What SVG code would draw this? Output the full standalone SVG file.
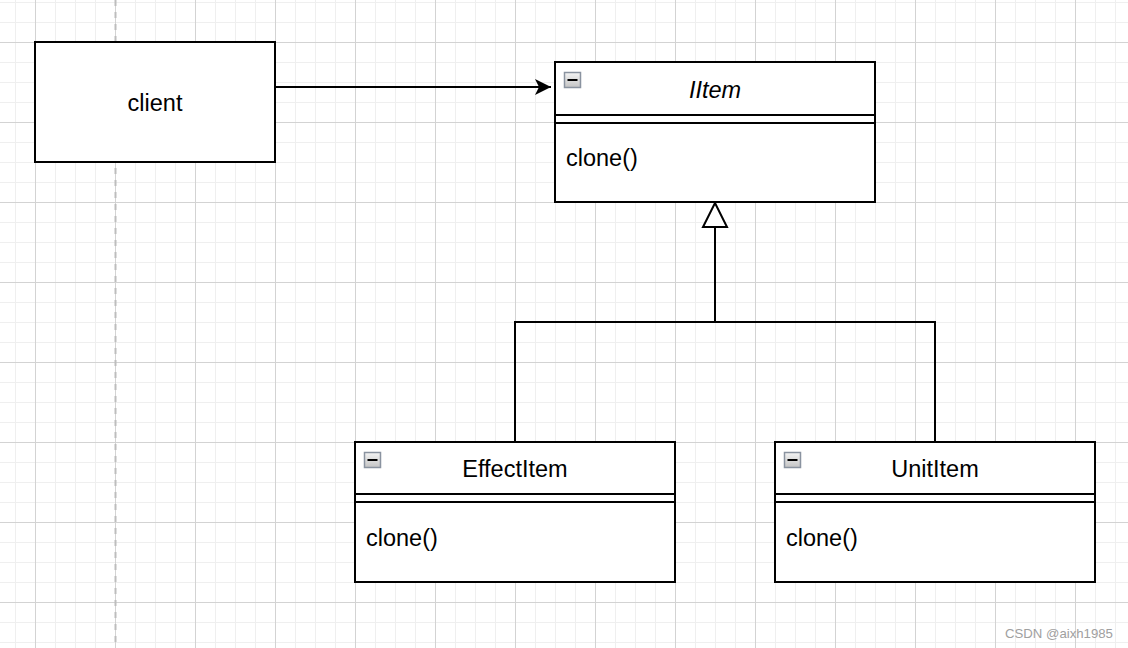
<svg xmlns="http://www.w3.org/2000/svg" width="1128" height="648" viewBox="0 0 1128 648">
  <style>
    .box { fill: #ffffff; stroke: #000000; stroke-width: 2; }
    .sep { stroke: #000000; stroke-width: 2; fill: none; }
    .title { font-family: "Liberation Sans", Arial, sans-serif; font-size: 23.5px; fill: #000000; text-anchor: middle; }
    .member { font-family: "Liberation Sans", Arial, sans-serif; font-size: 23.5px; fill: #000000; text-anchor: start; }
    .edge { stroke: #000000; stroke-width: 2; fill: none; }
    .wm { font-family: "Liberation Sans", Arial, sans-serif; font-size: 13.2px; fill: #a0a0a0; }
  </style>
  <defs>
    <pattern id="grid" patternUnits="userSpaceOnUse" x="35" y="42" width="80" height="80">
      <rect x="0" y="0" width="80" height="80" fill="#ffffff"/>
      <rect x="20" y="0" width="1" height="80" fill="#efefef"/>
      <rect x="40" y="0" width="1" height="80" fill="#efefef"/>
      <rect x="60" y="0" width="1" height="80" fill="#efefef"/>
      <rect x="0" y="20" width="80" height="1" fill="#efefef"/>
      <rect x="0" y="40" width="80" height="1" fill="#efefef"/>
      <rect x="0" y="60" width="80" height="1" fill="#efefef"/>
      <rect x="0" y="0" width="1" height="80" fill="#d3d3d3"/>
      <rect x="0" y="0" width="80" height="1" fill="#d3d3d3"/>
    </pattern>
    <linearGradient id="iconGrad" x1="0" y1="0" x2="0" y2="1">
      <stop offset="0" stop-color="#f4f4f4"/>
      <stop offset="1" stop-color="#c4c4c4"/>
    </linearGradient>
    <g id="collapse">
      <rect x="0.5" y="0.5" width="16" height="15" fill="url(#iconGrad)" stroke="#8a93a0" stroke-width="1.5"/>
      <rect x="3.5" y="7" width="10" height="2" fill="#000000"/>
    </g>
    <marker id="classic" markerUnits="userSpaceOnUse" markerWidth="20" markerHeight="20" refX="16" refY="8" orient="auto">
      <path d="M0,0 L16,8 L0,16 L4,8 Z" fill="#000000"/>
    </marker>
  </defs>

  <rect x="0" y="0" width="1128" height="648" fill="url(#grid)"/>
  <line x1="115.5" y1="0" x2="115.5" y2="648" stroke="#bdbdbd" stroke-width="2" stroke-dasharray="6,6"/>

  <g id="connectors">
    <path class="edge" d="M275,87 L551,87" marker-end="url(#classic)"/>
    <path class="edge" d="M715,227 L715,322 M515,442 L515,322 L935,322 L935,442"/>
    <path d="M715,203 L727,227 L703,227 Z" fill="#ffffff" stroke="#000000" stroke-width="2"/>
  </g>

  <g id="client">
    <rect class="box" x="35" y="42" width="240" height="120"/>
    <text class="title" x="155" y="111">client</text>
  </g>

  <g id="IItem">
    <rect class="box" x="555" y="62" width="320" height="140"/>
    <line class="sep" x1="555" y1="115" x2="875" y2="115"/>
    <line class="sep" x1="555" y1="123" x2="875" y2="123"/>
    <use href="#collapse" x="564" y="72"/>
    <text class="title" x="715" y="98" font-style="italic">IItem</text>
    <text class="member" x="566" y="166">clone()</text>
  </g>

  <g id="EffectItem">
    <rect class="box" x="355" y="442" width="320" height="140"/>
    <line class="sep" x1="355" y1="494" x2="675" y2="494"/>
    <line class="sep" x1="355" y1="502" x2="675" y2="502"/>
    <use href="#collapse" x="364" y="452"/>
    <text class="title" x="515" y="477">EffectItem</text>
    <text class="member" x="366" y="546">clone()</text>
  </g>

  <g id="UnitItem">
    <rect class="box" x="775" y="442" width="320" height="140"/>
    <line class="sep" x1="775" y1="494" x2="1095" y2="494"/>
    <line class="sep" x1="775" y1="502" x2="1095" y2="502"/>
    <use href="#collapse" x="784" y="452"/>
    <text class="title" x="935" y="477">UnitItem</text>
    <text class="member" x="786" y="546">clone()</text>
  </g>

  <text class="wm" x="1005" y="638">CSDN @aixh1985</text>
</svg>
